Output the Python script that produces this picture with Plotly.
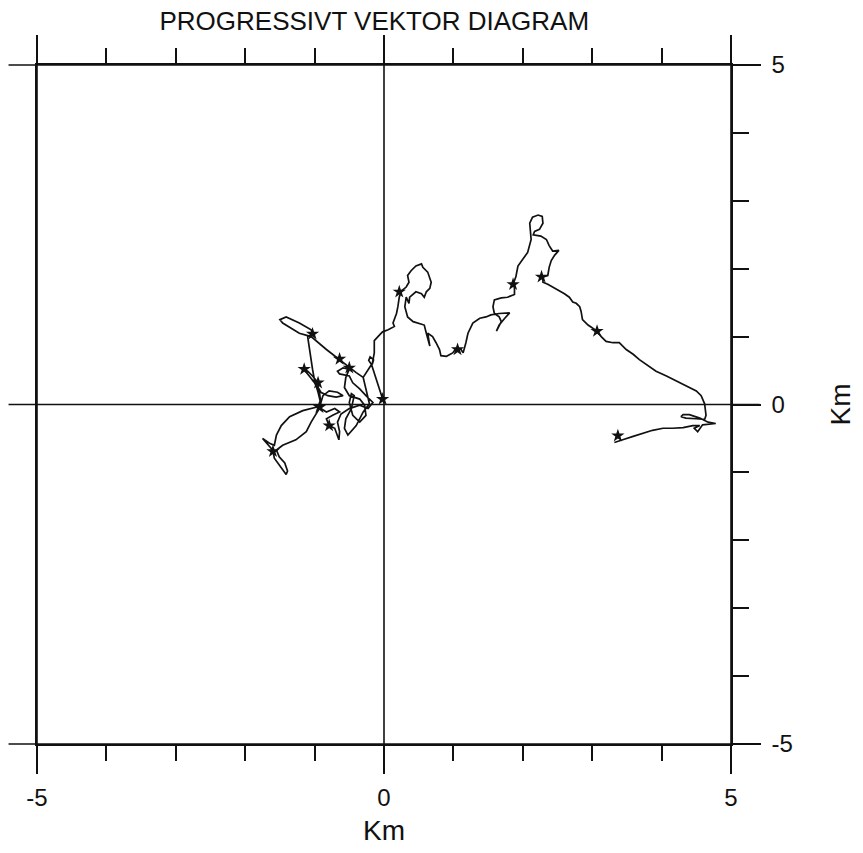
import plotly.graph_objects as go

# Progressive vector track (km east / km north of the mooring)
track_x = [
    0.00, -0.10, -0.18, -0.30, -0.21, -0.30, -0.40, -0.52, -0.57, -0.55, -0.47, -0.43,
    -0.47, -0.50, -0.45, -0.35, -0.26, -0.28, -0.35, -0.50, -0.57, -0.55, -0.50, -0.59,
    -0.67, -0.64, -0.50, -0.45, -0.35, -0.26, -0.16, -0.23, -0.35, -0.50, -0.62, -0.67,
    -0.64, -0.65, -0.71, -0.79, -0.83, -0.74, -0.64, -0.71, -0.83, -0.91, -0.93, -0.88,
    -0.79, -0.67, -0.59, -0.69, -0.81, -0.91, -0.95, -0.95, -1.03, -1.10, -1.15, -1.10,
    -1.00, -0.93, -0.91, -0.98, -1.17, -1.36, -1.48, -1.55, -1.58, -1.65, -1.75, -1.63,
    -1.60, -1.58, -1.48, -1.41, -1.39, -1.43, -1.51, -1.55, -1.46, -1.27, -1.12, -1.05,
    -0.95, -0.91, -0.95, -1.00, -1.03, -1.07, -1.10, -1.03, -1.05, -1.22, -1.41, -1.50,
    -1.46, -1.22, -1.05, -0.83, -0.64, -0.50, -0.40, -0.30, -0.23, -0.18, -0.22, -0.20,
    -0.15, -0.17,
    -0.14, -0.14, -0.06, -0.02, 0.06, 0.15, 0.13, 0.18, 0.20, 0.22, 0.25, 0.32,
    0.36, 0.34, 0.39, 0.46, 0.54, 0.56, 0.63, 0.68, 0.66, 0.61, 0.58, 0.54,
    0.46, 0.42, 0.37, 0.36, 0.32, 0.30, 0.32, 0.34, 0.42, 0.49, 0.58, 0.61,
    0.66, 0.63, 0.70, 0.75, 0.80, 0.82, 0.90, 0.99, 1.04, 1.11, 1.14,
    1.18, 1.21, 1.28, 1.38, 1.47, 1.54, 1.66, 1.81, 1.74, 1.66, 1.62, 1.64,
    1.69, 1.66, 1.59, 1.57, 1.59, 1.69, 1.78, 1.88, 1.88, 1.86, 1.90, 1.93,
    2.00, 2.07, 2.12, 2.11, 2.10, 2.14, 2.22, 2.28, 2.29, 2.24, 2.17, 2.15,
    2.26, 2.34, 2.38, 2.43, 2.52, 2.46, 2.41, 2.38, 2.36, 2.29, 2.29, 2.36,
    2.43, 2.50, 2.60, 2.67, 2.72, 2.77, 2.82, 2.84, 2.86, 2.94, 3.01, 3.07,
    3.13, 3.20, 3.30, 3.39, 3.49, 3.59, 3.68, 3.80, 3.92, 4.07, 4.21, 4.35,
    4.50, 4.57, 4.62, 4.64, 4.62, 4.50, 4.35, 4.28, 4.31, 4.40, 4.55, 4.67,
    4.78, 4.59, 4.52, 4.47, 4.55, 4.45, 4.31, 4.16, 4.02, 3.87, 3.73, 3.59,
    3.44, 3.32,
]
track_y = [
    0.02, 0.32, 0.59, 0.40, 0.01, -0.11, -0.31, -0.45, -0.35, -0.21, -0.06, 0.13,
    0.16, 0.03, -0.16, -0.26, -0.16, -0.01, 0.08, 0.13, 0.25, 0.40, 0.52, 0.54,
    0.49, 0.45, 0.42, 0.32, 0.23, 0.13, 0.03, -0.06, -0.01, -0.06, -0.14, -0.26,
    -0.40, -0.52, -0.35, -0.31, -0.21, -0.16, -0.11, -0.06, -0.11, -0.06, -0.04, 0.13,
    0.20, 0.18, 0.13, 0.11, 0.13, 0.18, 0.25, 0.32, 0.42, 0.49, 0.52, 0.45,
    0.32, 0.18, 0.01, -0.04, -0.09, -0.18, -0.31, -0.45, -0.60, -0.57, -0.50, -0.64,
    -0.69, -0.79, -0.94, -1.03, -0.98, -0.86, -0.77, -0.67, -0.60, -0.52, -0.40, -0.26,
    -0.09, 0.01, 0.18, 0.35, 0.52, 0.76, 1.00, 1.04, 1.10, 1.20, 1.29, 1.25,
    1.20, 1.05, 1.00, 0.81, 0.66, 0.54, 0.47, 0.40, 0.52, 0.59, 0.65, 0.70,
    0.66, 0.59,
    0.76, 0.94, 1.03, 1.07, 1.10, 1.15, 1.20, 1.34, 1.44, 1.58, 1.67, 1.73,
    1.80, 1.90, 1.97, 2.04, 2.07, 2.02, 1.95, 1.80, 1.71, 1.66, 1.58, 1.63,
    1.66, 1.63, 1.58, 1.49, 1.58, 1.44, 1.37, 1.29, 1.22, 1.20, 1.17, 1.05,
    0.86, 1.05, 1.00, 0.91, 0.81, 0.72, 0.71, 0.76, 0.83, 0.81, 0.76,
    0.91, 1.05, 1.20, 1.27, 1.29, 1.32, 1.34, 1.35, 1.27, 1.17, 1.08, 1.12,
    1.22, 1.29, 1.34, 1.44, 1.54, 1.57, 1.58, 1.62, 1.75, 1.77, 1.88, 2.04,
    2.14, 2.24, 2.43, 2.60, 2.67, 2.76, 2.79, 2.77, 2.67, 2.58, 2.55, 2.50,
    2.48, 2.43, 2.34, 2.26, 2.27, 2.20, 2.12, 2.02, 1.90, 1.88, 1.80, 1.77,
    1.73, 1.68, 1.63, 1.58, 1.51, 1.49, 1.44, 1.37, 1.25, 1.17, 1.12, 1.08,
    1.00, 0.93, 0.91, 0.91, 0.81, 0.74, 0.66, 0.57, 0.49, 0.42, 0.35, 0.28,
    0.20, 0.13, 0.01, -0.16, -0.22, -0.21, -0.20, -0.18, -0.15, -0.15, -0.20, -0.26,
    -0.28, -0.30, -0.40, -0.35, -0.31, -0.31, -0.34, -0.35, -0.35, -0.38, -0.43, -0.47,
    -0.52, -0.56,
]

# Daily position markers
day_x = [-0.02, -1.03, -0.64, -1.15, -0.95, -0.50, -0.93, -0.79, -1.60, 0.22, 1.06,
         1.86, 2.27, 3.07, 3.37]
day_y = [0.08, 1.04, 0.67, 0.52, 0.32, 0.54, -0.04, -0.31, -0.69, 1.66, 0.81,
         1.77, 1.88, 1.08, -0.46]

axis_range = [-5, 5]
major_ticks = [-5, 0, 5]
major_labels = ["-5", "0", "5"]

TITLE = "PROGRESSIVT VEKTOR DIAGRAM"
AXIS_TITLE = "Km"
FONT = "Liberation Sans, Arial, sans-serif"
INK = "#111111"

fig = go.Figure()
fig.add_trace(go.Scatter(
    x=track_x, y=track_y, mode="lines",
    line=dict(color=INK, width=1.7), hoverinfo="skip", showlegend=False,
))
fig.add_trace(go.Scatter(
    x=day_x, y=day_y, mode="markers",
    marker=dict(symbol="star", size=10, color=INK), hoverinfo="skip", showlegend=False,
))

# crosshair frame: the -5, 0 and 5 lines run past the box on both sides
ext = 0.041
frame = []
for p in (0.0, 0.5, 1.0):
    frame.append(dict(type="line", xref="paper", yref="paper", x0=p, x1=p,
                      y0=-ext, y1=1 + ext, line=dict(color=INK, width=1.6)))
    frame.append(dict(type="line", xref="paper", yref="paper", x0=-ext, x1=1 + ext,
                      y0=p, y1=p, line=dict(color=INK, width=1.6)))

tick_font = dict(family=FONT, size=24, color=INK)

fig.update_layout(
    width=863, height=853,
    margin=dict(l=37, r=131, t=65, b=100),
    paper_bgcolor="white", plot_bgcolor="white",
    shapes=frame,
    title=dict(text=TITLE, x=0.486, xref="paper", xanchor="center",
               y=1 - 21 / 853, yref="container", yanchor="middle",
               font=dict(family=FONT, size=26, color=INK)),
    xaxis=dict(
        range=axis_range, showgrid=False, zeroline=False,
        showline=True, linecolor=INK, linewidth=1.6, mirror="ticks",
        ticks="outside", tickvals=major_ticks, ticktext=major_labels,
        ticklen=28, tickwidth=1.5, tickcolor=INK,
        minor=dict(dtick=1, tick0=0, ticks="outside", ticklen=15,
                   tickwidth=1.5, tickcolor=INK, showgrid=False),
        tickfont=tick_font, ticklabelstandoff=3,
        title=dict(text=AXIS_TITLE, font=dict(family=FONT, size=28, color=INK),
                   standoff=11),
    ),
    yaxis=dict(
        range=axis_range, side="right", showgrid=False, zeroline=False,
        showline=True, linecolor=INK, linewidth=1.6, mirror=True,
        ticks="outside", tickvals=major_ticks, ticktext=major_labels,
        ticklen=28, tickwidth=1.5, tickcolor=INK,
        minor=dict(dtick=1, tick0=0, ticks="outside", ticklen=16,
                   tickwidth=1.5, tickcolor=INK, showgrid=False),
        tickfont=tick_font, ticklabelstandoff=6,
        title=dict(text=AXIS_TITLE, font=dict(family=FONT, size=28, color=INK),
                   standoff=38),
    ),
)

fig.write_html("out.html")
